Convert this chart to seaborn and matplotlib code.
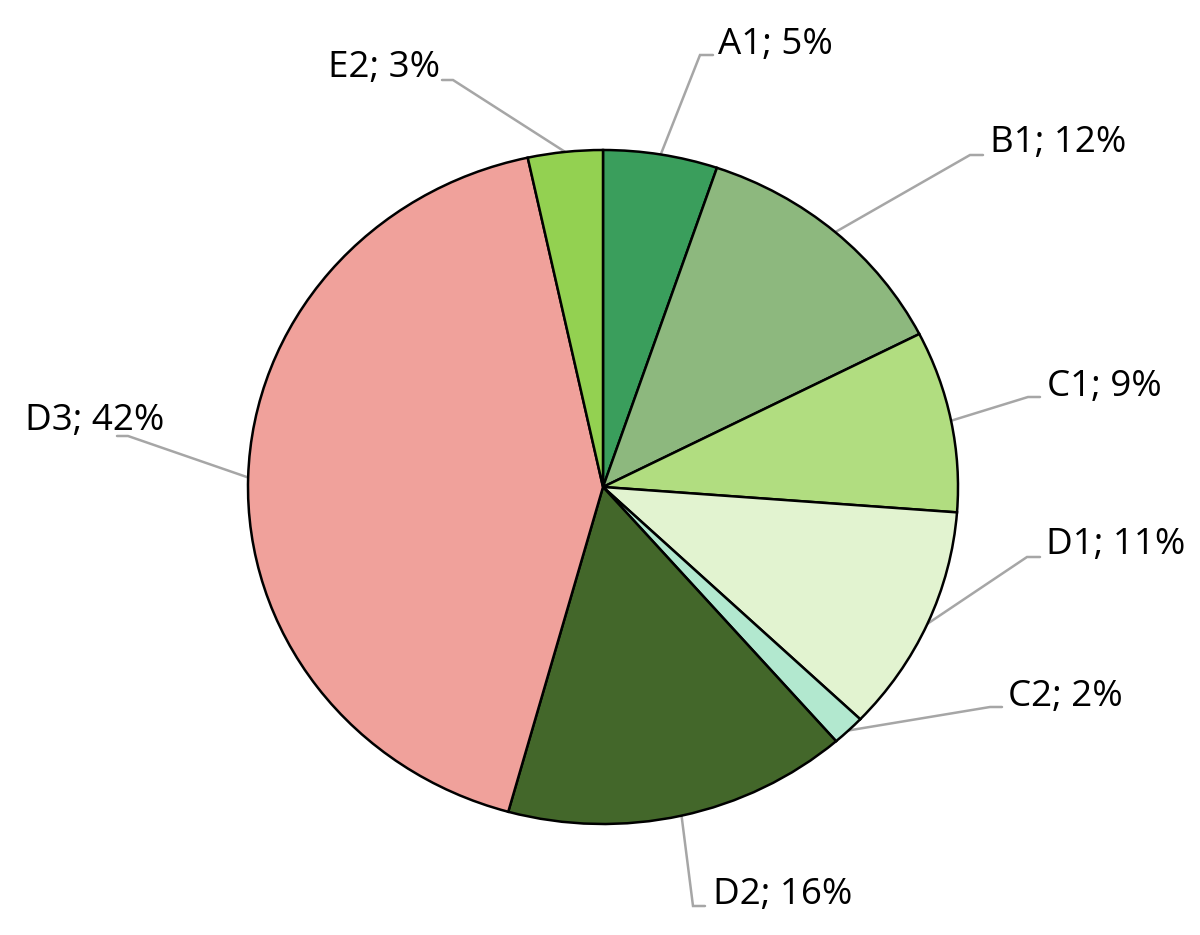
import numpy as np
import seaborn as sns
import matplotlib.pyplot as plt

# data
labels = ['A1', 'B1', 'C1', 'D1', 'C2', 'D2', 'D3', 'E2']
shares = [5.2, 12.3, 8.7, 10.9, 1.5, 15.7, 42.3, 3.4]
shown_pct = [5, 12, 9, 11, 2, 16, 42, 3]
colors = ['#3a9e5c', '#8db87e', '#b1dd80', '#e2f3d0',
          '#b2e8cf', '#43672a', '#f0a19b', '#93d151']

# label layout in pixels: text left x, text centre y, line start x, elbow x, line y
text_pos = [(718, 45), (990, 143), (1047, 387), (1046, 545),
            (1008, 697), (713, 895), (25, 421), (328, 68)]
elbow = [(713, 700, 55), (983, 970, 155), (1040, 1028, 397), (1040, 1027, 557),
         (1002, 990, 707), (705, 693, 906), (117, 128, 436), (442, 453, 80)]

sns.set_theme(style='white')
plt.rcParams['font.family'] = ['Open Sans', 'DejaVu Sans']

W, H = 1200, 935
cx, cy, rx, ry = 603, 487, 355, 337

def px(x, y):
    return (x - cx) / rx, (cy - y) / ry

fig = plt.figure(figsize=(W / 100, H / 100), dpi=100)
ax = fig.add_axes([0, 0, 1, 1])

wedges, _ = ax.pie(shares, colors=colors, startangle=90, counterclock=False,
                   radius=1, wedgeprops=dict(edgecolor='black', linewidth=1.8))
ax.set_aspect('auto')
x0, y0 = px(0, 0)
x1, y1 = px(W, H)
ax.set_xlim(x0, x1)
ax.set_ylim(y1, y0)

for w, lab, p, (tx, ty), (sx, ex, ly) in zip(wedges, labels, shown_pct, text_pos, elbow):
    mid = np.deg2rad((w.theta1 + w.theta2) / 2)
    ax_, ay_ = np.cos(mid), np.sin(mid)
    a, b = px(sx, ly)
    c, d = px(ex, ly)
    ax.plot([a, c, ax_], [b, d, ay_], color='#a6a6a6', lw=1.8, zorder=0.5,
            solid_joinstyle='miter')
    x, y = px(tx, ty)
    ax.text(x, y, f'{lab}; {p}%', ha='left', va='center', fontsize=26.5, color='black')

ax.axis('off')
fig.savefig('out.png', dpi=100)
